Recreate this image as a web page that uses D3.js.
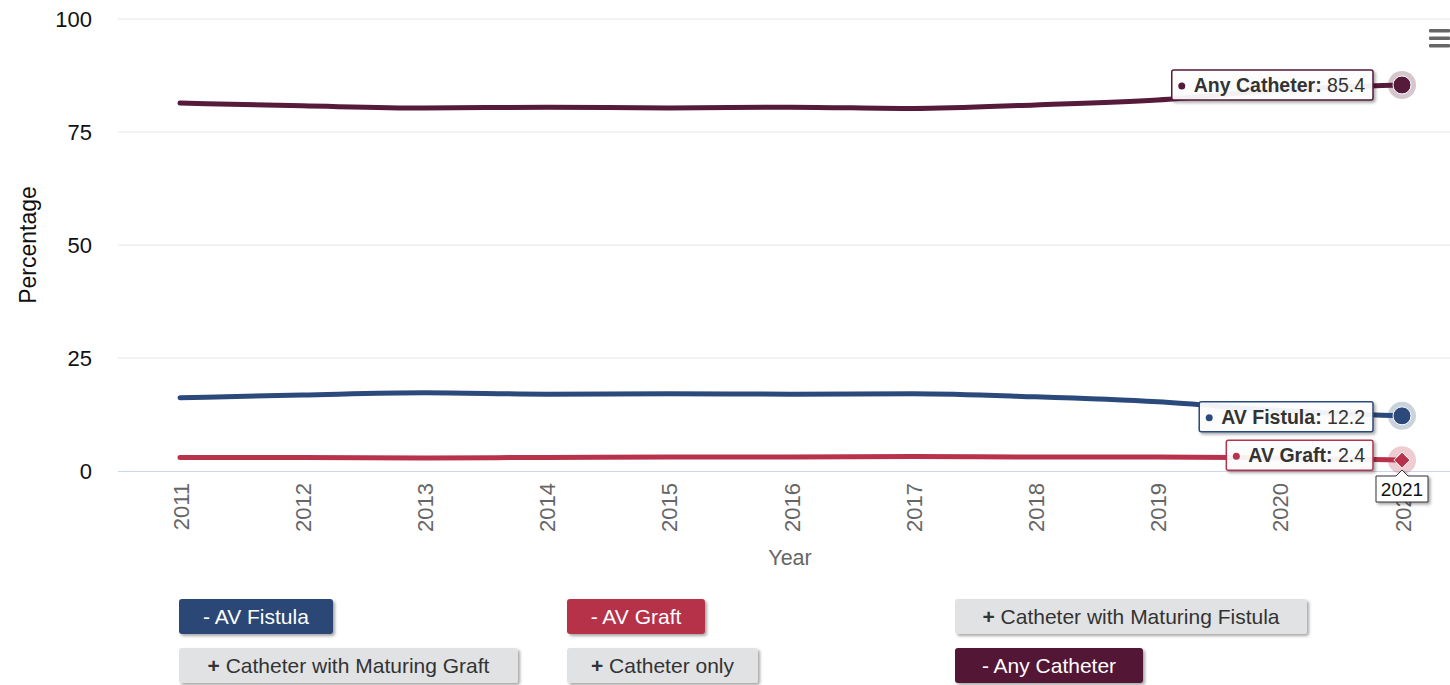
<!DOCTYPE html>
<html>
<head>
<meta charset="utf-8">
<script src="https://cdn.jsdelivr.net/npm/d3@7/dist/d3.min.js"></script>
<style>
  html, body { margin: 0; padding: 0; background: #fff; }
  svg { display: block; }
  svg text { font-family: "Liberation Sans", Arial, Helvetica, sans-serif; }
</style>
</head>
<body>
<svg id="chart" width="1450" height="685"></svg>
<script>
// Vascular access type at start of dialysis, percentage by year
const years = [2011, 2012, 2013, 2014, 2015, 2016, 2017, 2018, 2019, 2020, 2021];
const avFistula = [16.2, 16.8, 17.3, 17.0, 17.1, 17.0, 17.1, 16.4, 15.3, 13.4, 12.2];
const avGraft = [3.0, 3.0, 2.9, 3.0, 3.1, 3.1, 3.2, 3.1, 3.1, 2.9, 2.4];
const anyCatheter = [81.4, 80.8, 80.3, 80.5, 80.3, 80.5, 80.2, 81.0, 82.1, 84.3, 85.4];
const yTicks = [0, 25, 50, 75, 100];

const seriesList = [
  { name: "AV Fistula", values: avFistula, color: "#2b4a7b", marker: "circle", boxShift: 1 },
  { name: "AV Graft", values: avGraft, color: "#b8324c", marker: "diamond", boxShift: -5 },
  { name: "Any Catheter", values: anyCatheter, color: "#561a3b", marker: "circle", boxShift: 0 }
];

const legendItems = [
  { sign: "-", label: "AV Fistula", color: "#2b4675", active: true, row: 0, col: 0, w: 154 },
  { sign: "-", label: "AV Graft", color: "#b6304a", active: true, row: 0, col: 1, w: 138 },
  { sign: "+", label: "Catheter with Maturing Fistula", color: "#e1e2e4", active: false, row: 0, col: 2, w: 352 },
  { sign: "+", label: "Catheter with Maturing Graft", color: "#e1e2e4", active: false, row: 1, col: 0, w: 339 },
  { sign: "+", label: "Catheter only", color: "#e1e2e4", active: false, row: 1, col: 1, w: 191 },
  { sign: "-", label: "Any Catheter", color: "#521536", active: true, row: 1, col: 2, w: 188 }
];

const svg = d3.select("#chart");
const plot = { left: 118, right: 1450, top: 19, bottom: 471 };

const x = d3.scalePoint().domain(years).range([180, 1402]);
const y = d3.scaleLinear().domain([0, 100]).range([plot.bottom, plot.top]);

// drop shadow used by tooltips and legend buttons
const defs = svg.append("defs");
const sh = defs.append("filter").attr("id", "shadow").attr("x", "-10%").attr("y", "-20%").attr("width", "130%").attr("height", "160%");
sh.append("feDropShadow").attr("dx", 2).attr("dy", 2).attr("stdDeviation", 1.5).attr("flood-color", "#000").attr("flood-opacity", 0.35);

// horizontal grid
svg.append("g").selectAll("line").data(yTicks.filter(d => d > 0)).join("line")
  .attr("x1", plot.left).attr("x2", plot.right)
  .attr("y1", d => y(d)).attr("y2", d => y(d))
  .attr("stroke", "#e6e6e6").attr("stroke-width", 1);

// y axis labels
const yAxis = svg.append("g").attr("transform", `translate(${plot.left},0)`)
  .call(d3.axisLeft(y).tickValues(yTicks).tickSize(0).tickPadding(26));
yAxis.select(".domain").remove();
yAxis.attr("font-family", null);
yAxis.selectAll("text").attr("font-size", 22).attr("fill", "#111");

svg.append("text")
  .attr("transform", `translate(36,${(plot.top + plot.bottom) / 2}) rotate(-90)`)
  .attr("text-anchor", "middle").attr("font-size", 23).attr("fill", "#111")
  .text("Percentage");

// x axis
const xAxis = svg.append("g").attr("transform", `translate(0,${plot.bottom})`)
  .call(d3.axisBottom(x).tickSize(0).tickPadding(0));
xAxis.select(".domain").remove();
xAxis.attr("font-family", null);
svg.append("line").attr("x1", plot.left).attr("x2", plot.right)
  .attr("y1", plot.bottom + 0.5).attr("y2", plot.bottom + 0.5)
  .attr("stroke", "#ccd6eb").attr("stroke-width", 1);
xAxis.selectAll("text")
  .attr("transform", "translate(8,12) rotate(-90)")
  .attr("text-anchor", "end").attr("dy", 0).attr("x", 0).attr("y", 0)
  .attr("font-size", 22).attr("fill", "#666");

svg.append("text").attr("x", 790).attr("y", 565).attr("text-anchor", "middle")
  .attr("font-size", 21.5).attr("fill", "#666").text("Year");

// series lines
const line = d3.line().x((d, i) => x(years[i])).y(d => y(d)).curve(d3.curveMonotoneX);
const lines = svg.append("g");
seriesList.forEach(s => {
  lines.append("path").datum(s.values).attr("d", line)
    .attr("fill", "none").attr("stroke", s.color).attr("stroke-width", 5)
    .attr("stroke-linecap", "round").attr("stroke-linejoin", "round");
});

// hovered point markers at the last year
const last = years.length - 1;
const hover = svg.append("g");
seriesList.forEach(s => {
  const cx = x(years[last]), cy = y(s.values[last]);
  hover.append("circle").attr("cx", cx).attr("cy", cy).attr("r", 14)
    .attr("fill", s.color).attr("fill-opacity", 0.25);
  if (s.marker === "diamond") {
    const r = 8;
    hover.append("path")
      .attr("d", `M${cx},${cy - r}L${cx + r},${cy}L${cx},${cy + r}L${cx - r},${cy}Z`)
      .attr("fill", s.color).attr("stroke", "#fff").attr("stroke-width", 1);
  } else {
    hover.append("circle").attr("cx", cx).attr("cy", cy).attr("r", 9)
      .attr("fill", s.color).attr("stroke", "#fff").attr("stroke-width", 1);
  }
});

// split tooltip boxes to the left of each point
const tips = svg.append("g");
seriesList.forEach(s => {
  const px = x(years[last]), py = y(s.values[last]) + s.boxShift;
  const g = tips.append("g");
  const t = g.append("text").attr("y", py + 7).attr("font-size", 19.5).attr("fill", "#333");
  t.append("tspan").attr("font-weight", "bold").text(s.name + ": ");
  t.append("tspan").text(s.values[last].toFixed(1));
  const tw = t.node().getComputedTextLength();
  const right = px - 29;
  const boxW = tw + 30;
  const left = right - boxW;
  t.attr("x", left + 22);
  g.insert("rect", "text").attr("x", left).attr("y", py - 15).attr("width", boxW).attr("height", 30)
    .attr("rx", 2).attr("fill", "#fff").attr("fill-opacity", 0.92)
    .attr("stroke", s.color).attr("stroke-width", 1.5).attr("filter", "url(#shadow)");
  g.append("circle").attr("cx", left + 10).attr("cy", py + 1).attr("r", 3.5).attr("fill", s.color);
});

// crosshair category label
{
  const cx = x(years[last]);
  const top = plot.bottom + 5, h = 26, w = 52;
  const g = svg.append("g");
  g.append("path")
    .attr("d", `M${cx - w / 2},${top}H${cx - 6}L${cx},${top - 6}L${cx + 6},${top}H${cx + w / 2}V${top + h}H${cx - w / 2}Z`)
    .attr("fill", "#fff").attr("stroke", "#333").attr("stroke-width", 1).attr("filter", "url(#shadow)");
  g.append("text").attr("x", cx).attr("y", top + 20).attr("text-anchor", "middle")
    .attr("font-size", 19).attr("fill", "#111").text(years[last]);
}

// context menu icon
svg.append("g").selectAll("rect").data([0, 1, 2]).join("rect")
  .attr("x", 1429).attr("y", d => 29 + d * 7.5).attr("width", 21).attr("height", 3.5)
  .attr("rx", 1).attr("fill", "#666");

// legend toggle buttons
const colX = [179, 567, 955], rowY = [599, 648];
const legend = svg.append("g");
legendItems.forEach(it => {
  const g = legend.append("g").attr("transform", `translate(${colX[it.col]},${rowY[it.row]})`);
  g.append("rect").attr("width", it.w).attr("height", 35).attr("rx", 3)
    .attr("fill", it.color).attr("filter", "url(#shadow)");
  const t = g.append("text").attr("x", it.w / 2).attr("y", 25).attr("text-anchor", "middle")
    .attr("font-size", 21).attr("fill", it.active ? "#fff" : "#333");
  t.append("tspan").attr("font-weight", it.sign === "+" ? "bold" : "normal").text(it.sign);
  t.append("tspan").text(" " + it.label);
});
</script>
</body>
</html>
